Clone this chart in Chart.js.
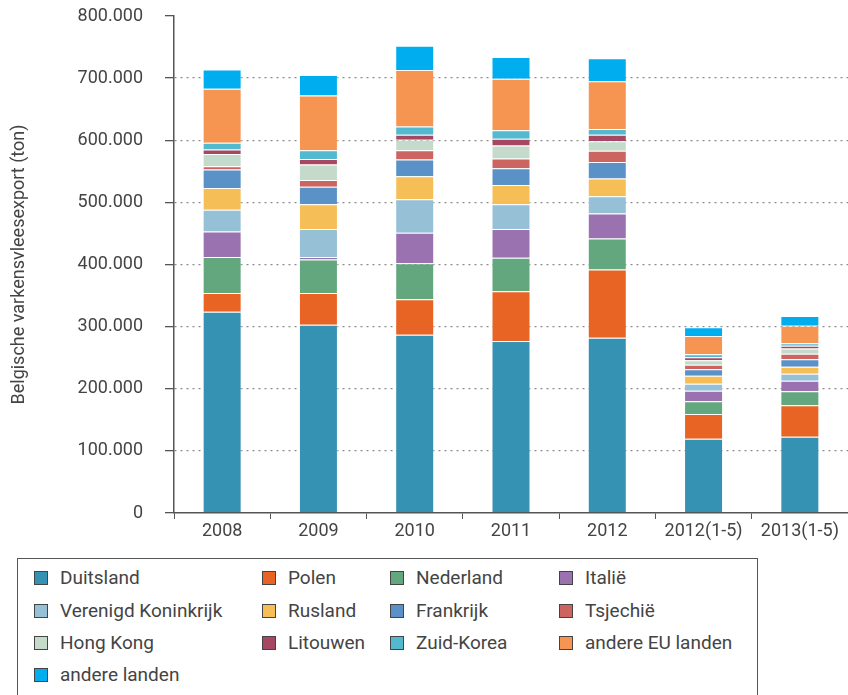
<!DOCTYPE html>
<html>
<head>
<meta charset="utf-8">
<script src="https://cdn.jsdelivr.net/npm/chart.js@4"></script>
<style>
  body { margin: 0; background: #fff; font-family: Roboto, sans-serif; }
  #wrap { position: relative; width: 848px; height: 695px; overflow: hidden; }
  #chartBox { position: absolute; left: 0; top: 0; width: 848px; height: 550px; }
  #legend { position: absolute; left: 17px; top: 558px; width: 741px; height: 160px;
            border: 1px solid #555; box-sizing: border-box; }
  .item { position: absolute; font-size: 19px; color: #444; white-space: nowrap; line-height: 20px; }
  .item span.sw { position: absolute; left: 0; top: 3px; width: 14px; height: 14px;
                  border: 1px solid #444; box-sizing: border-box; }
  .item span.tx { position: absolute; left: 26px; top: 0; }
</style>
</head>
<body>
<div id="wrap">
  <div id="chartBox"><canvas id="chart"></canvas></div>
  <div id="legend"></div>
</div>
<script>
// categorieen
var jaren = ['2008', '2009', '2010', '2011', '2012', '2012(1-5)', '2013(1-5)'];

// export per land (ton)
var duitsland     = [324000, 303000, 287000, 277000, 282000, 119600, 122900];
var polen         = [30000, 51000, 57000, 80000, 110000, 39800, 50500];
var nederland     = [58000, 54000, 58000, 54000, 50000, 20500, 22600];
var italie        = [41000, 4000, 49000, 46000, 40000, 17000, 17000];
var verenigdKon   = [35000, 45000, 54000, 40000, 28000, 11300, 11300];
var rusland       = [35000, 40000, 37000, 31000, 28500, 12900, 11300];
var frankrijk     = [30000, 28000, 27000, 27000, 26500, 10300, 11900];
var tsjechie      = [5000, 11000, 15000, 15500, 18000, 7400, 9000];
var hongKong      = [20000, 25000, 17000, 21000, 15500, 7100, 8100];
var litouwen      = [7000, 9000, 8000, 11000, 10500, 4800, 4800];
var zuidKorea     = [11000, 14000, 13000, 13500, 9000, 4800, 3900];
var andereEU      = [87000, 88000, 91000, 83000, 77000, 29500, 28300];
var andereLanden  = [31000, 33000, 39000, 35000, 37000, 14000, 15600];

var reeksen = [
  ['Duitsland', duitsland, '#3592b3'],
  ['Polen', polen, '#e86424'],
  ['Nederland', nederland, '#63a77f'],
  ['Italië', italie, '#9b72b0'],
  ['Verenigd Koninkrijk', verenigdKon, '#95c0d6'],
  ['Rusland', rusland, '#f5be57'],
  ['Frankrijk', frankrijk, '#5a91c6'],
  ['Tsjechië', tsjechie, '#cc6560'],
  ['Hong Kong', hongKong, '#c4dbcb'],
  ['Litouwen', litouwen, '#a74863'],
  ['Zuid-Korea', zuidKorea, '#52b9cf'],
  ['andere EU landen', andereEU, '#f69551'],
  ['andere landen', andereLanden, '#00aeef']
];

var datasets = [];
for (var i = 0; i < reeksen.length; i++) {
  datasets.push({
    label: reeksen[i][0],
    data: reeksen[i][1],
    backgroundColor: reeksen[i][2],
    borderColor: 'rgba(255,255,255,0.35)',
    borderWidth: 1,
    barPercentage: 0.405,
    categoryPercentage: 1
  });
}

var tekst = '#444';

var ctx = document.getElementById('chart').getContext('2d');
var chart = new Chart(ctx, {
  type: 'bar',
  data: { labels: jaren, datasets: datasets },
  options: {
    responsive: true,
    maintainAspectRatio: false,
    animation: false,
    layout: { padding: { left: 0, right: 0, top: 0, bottom: 0 } },
    plugins: { legend: { display: false }, tooltip: { enabled: false } },
    scales: {
      x: {
        stacked: true,
        grid: { offset: true, drawOnChartArea: false, drawTicks: true, tickLength: 6, tickColor: '#555' },
        border: { color: '#555', width: 1.5 },
        ticks: { color: tekst, font: { family: 'Roboto', size: 18 }, padding: 2, maxRotation: 0, autoSkip: false },
        afterFit: function(scale) { scale.height = 37; }
      },
      y: {
        stacked: true,
        min: 0,
        max: 800000,
        grid: {
          color: function(c) {
            var v = c.tick ? c.tick.value : 0;
            return (v === 0 || v === 800000) ? 'rgba(0,0,0,0)' : '#8c8c8c';
          },
          lineWidth: 1.3,
          tickLength: 9,
          tickColor: '#555',
          tickBorderDash: []
        },
        border: { color: '#555', width: 1.5, dash: [2, 4] },
        ticks: {
          stepSize: 100000,
          color: tekst,
          padding: 22,
          font: { family: 'Roboto', size: 18 },
          callback: function(v) { return v === 0 ? '0' : (v / 1000) + '.000'; }
        },
        title: {
          display: true,
          text: 'Belgische varkensvleesexport (ton)',
          color: tekst,
          font: { family: 'Roboto', size: 18 },
          padding: { top: 9, bottom: 0 }
        },
        afterFit: function(scale) {
          scale.width = 174;
          scale.paddingTop = 16;
          scale.paddingBottom = 11;
        }
      }
    }
  }
});

// legenda in vier kolommen
var kolomX = [16, 244, 372, 541];
var rijY = [9, 42, 74, 106];
var legend = document.getElementById('legend');
for (var j = 0; j < reeksen.length; j++) {
  var div = document.createElement('div');
  div.className = 'item';
  div.style.left = kolomX[j % 4] + 'px';
  div.style.top = rijY[Math.floor(j / 4)] + 'px';
  var sw = document.createElement('span');
  sw.className = 'sw';
  sw.style.background = reeksen[j][2];
  var tx = document.createElement('span');
  tx.className = 'tx';
  tx.textContent = reeksen[j][0];
  div.appendChild(sw);
  div.appendChild(tx);
  legend.appendChild(div);
}
</script>
</body>
</html>
